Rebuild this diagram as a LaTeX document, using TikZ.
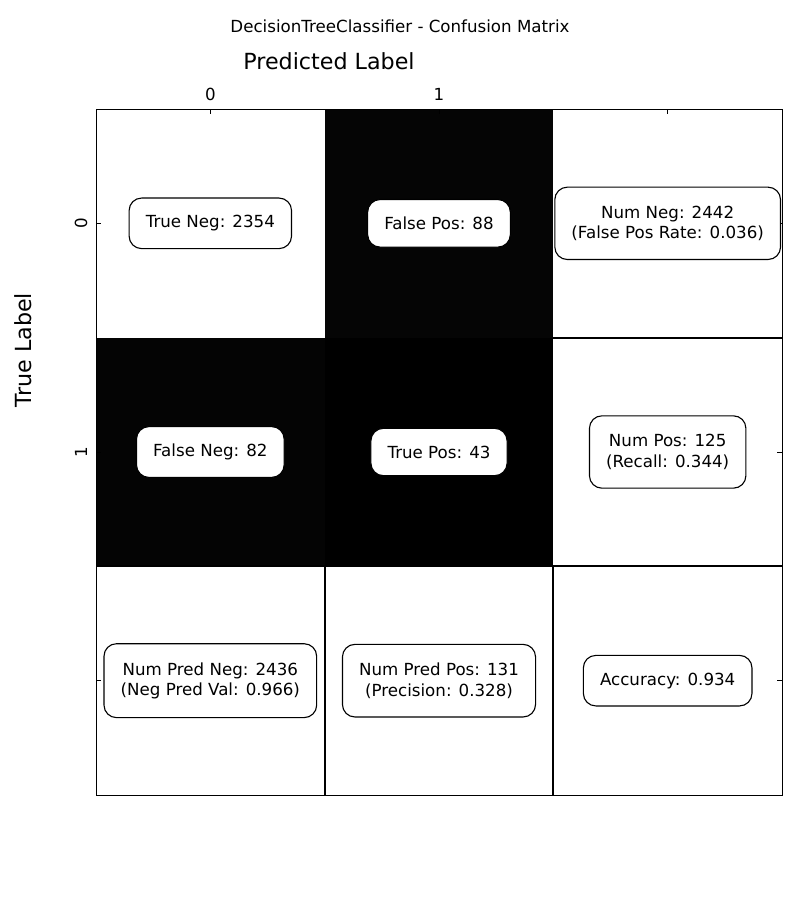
\documentclass[tikz,border=0pt]{standalone}
\usepackage{fontspec}
\setmainfont{DejaVu Sans}
\usetikzlibrary{positioning}
\definecolor{fpgray}{gray}{0.020}
\definecolor{fngray}{gray}{0.017}
\tikzset{%
    cbox/.style={rounded corners=9pt,draw=black,fill=white,line width=0.8pt,
        inner xsep=12pt,inner ysep=12.5pt,align=center,
        font=\fontsize{12}{14.6}\selectfont},
    ticklbl/.style={font=\fontsize{12}{14.4}\selectfont},
    axlbl/.style={font=\fontsize{16}{19.2}\selectfont},
    frame/.style={line width=0.6pt},
    tick/.style={line width=0.6pt},
    sep/.style={line width=1.6pt}
}

\begin{document}
\begin{tikzpicture}[x=0.72pt,y=-0.72pt]
            \useasboundingbox (0,0) rectangle (800,900);
            %%%%% cells
            \fill[fpgray] (324.67,109) rectangle (553.33,337.67);
            \fill[fngray] (96,337.67) rectangle (324.67,566.33);
            \fill[black] (324.67,337.67) rectangle (553.33,566.33);
            \draw[sep] (553.33,337.67) -- (782,337.67);
            \draw[sep] (96,566.33) -- (782,566.33);
            \draw[sep] (324.67,566.33) -- (324.67,795);
            \draw[sep] (553.33,566.33) -- (553.33,795);
            \draw[frame] (96,109) rectangle (782,795);
            %%%%% ticks
            \draw[tick] (210.33,109) -- (210.33,114) (439,109) -- (439,114)
            (667.67,109) -- (667.67,114);
            \draw[tick] (96,223.33) -- (101,223.33) (96,452) -- (101,452)
            (96,680.67) -- (101,680.67);
            \draw[tick] (782,223.33) -- (777,223.33) (782,452) -- (777,452)
            (782,680.67) -- (777,680.67);
            %%%%% labels
            \node [ticklbl] (title) at (400,26) {DecisionTreeClassifier - Confusion Matrix};
            \node [axlbl] (xlab) at (329,61) {Predicted Label};
            \node [axlbl,rotate=90] (ylab) at (23,350) {True Label};
            \node [ticklbl] (x0) at (210.33,94) {0};
            \node [ticklbl] (x1) at (439,94) {1};
            \node [ticklbl,rotate=90] (y0) at (81,223.33) {0};
            \node [ticklbl,rotate=90] (y1) at (81,452) {1};
            %%%%% boxes
            \node [cbox] (b0-0) at (210.33,223.33) {True Neg: 2354};
            \node [cbox] (b0-1) at (439,223.33) {False Pos: 88};
            \node [cbox,inner ysep=13.5pt] (b0-2) at (667.67,223.33) {Num Neg: 2442\\(False Pos Rate: 0.036)};
            \node [cbox] (b1-0) at (210.33,452) {False Neg: 82};
            \node [cbox] (b1-1) at (439,452) {True Pos: 43};
            \node [cbox,inner ysep=13.5pt] (b1-2) at (667.67,452) {Num Pos: 125\\(Recall: 0.344)};
            \node [cbox,inner ysep=13.5pt] (b2-0) at (210.33,680.67) {Num Pred Neg: 2436\\(Neg Pred Val: 0.966)};
            \node [cbox,inner ysep=13.5pt] (b2-1) at (439,680.67) {Num Pred Pos: 131\\(Precision: 0.328)};
            \node [cbox] (b2-2) at (667.67,680.67) {Accuracy: 0.934};
\end{tikzpicture}
\end{document}
